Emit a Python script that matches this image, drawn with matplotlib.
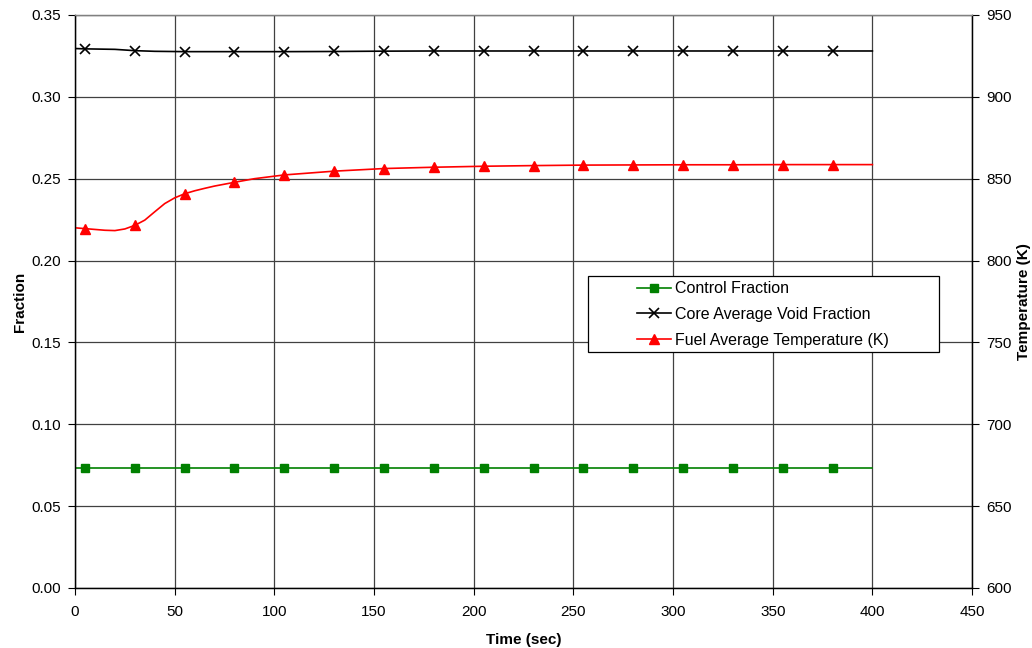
import matplotlib
matplotlib.use("Agg")
import matplotlib.pyplot as plt
from matplotlib.patches import Rectangle
import numpy as np

plt.rcParams["font.family"] = ["Liberation Sans", "DejaVu Sans"]

# line data
time_frac = [0, 5, 20, 30, 40, 55, 80, 105, 130, 155, 180, 205, 230, 255, 280, 305, 330, 355, 380, 400]
control_fraction = [0.073] * len(time_frac)
void_fraction = [0.3295, 0.3293, 0.3290, 0.3282, 0.3278, 0.3276, 0.3276, 0.3276, 0.3277, 0.3279,
                 0.3280, 0.3280, 0.3280, 0.3280, 0.3280, 0.3280, 0.3280, 0.3280, 0.3280, 0.3280]

time_temp = [0, 5, 10, 15, 20, 25, 30, 35, 40, 45, 50, 55, 60, 65, 70, 80, 90, 105, 130,
             155, 180, 205, 230, 255, 280, 305, 330, 355, 380, 400]
fuel_temp = [820.0, 819.5, 819.0, 818.5, 818.3, 819.3, 821.5, 824.7, 829.8, 834.8, 838.3, 840.8,
             842.6, 844.1, 845.5, 847.8, 850.0, 852.3, 854.6, 856.2, 857.0, 857.6, 858.0, 858.3,
             858.4, 858.5, 858.5, 858.6, 858.6, 858.6]

marker_times = [5, 30, 55, 80, 105, 130, 155, 180, 205, 230, 255, 280, 305, 330, 355, 380]

frac_marks = [time_frac.index(t) for t in marker_times]
temp_marks = [time_temp.index(t) for t in marker_times]

fig = plt.figure(figsize=(10.32, 6.48), dpi=100)
ax = fig.add_axes([0.0727, 0.0926, 0.8692, 0.8843])
ax2 = ax.twinx()

l1, = ax.plot(time_frac, control_fraction, color="#008000", lw=1.2, marker="s", ms=6,
              markevery=frac_marks, label="Control Fraction")
l2, = ax.plot(time_frac, void_fraction, color="black", lw=1.2, marker="x", ms=7, mew=1.2,
              markevery=frac_marks, label="Core Average Void Fraction")
l3, = ax2.plot(time_temp, fuel_temp, color="#FF0000", lw=1.2, marker="^", ms=7,
               markevery=temp_marks, label="Fuel Average Temperature (K)")

ax.set_xlim(0, 450)
ax.set_ylim(0, 0.35)
ax2.set_ylim(600, 950)
ax.set_xticks(np.arange(0, 451, 50))
ax.set_yticks(np.arange(0, 0.351, 0.05))
ax.set_yticklabels([f"{v:.2f}" for v in np.arange(0, 0.351, 0.05)])
ax2.set_yticks(np.arange(600, 951, 50))

ax.grid(True, color="#404040", lw=0.9)
ax.set_axisbelow(True)

for a in (ax, ax2):
    a.tick_params(labelsize=11, length=5, width=0.8, color="black", pad=5)
    for s in a.spines.values():
        s.set_color("black")
        s.set_linewidth(0.9)
ax.tick_params(axis="x", pad=7)
ax.spines["top"].set_color("#808080")
ax2.spines["top"].set_color("#808080")

ax.set_xlabel("Time (sec)", fontsize=11, fontweight="bold", labelpad=10)
ax.set_ylabel("Fraction", fontsize=11, fontweight="bold", labelpad=3)
ax2.set_ylabel("Temperature (K)", fontsize=11, fontweight="bold", labelpad=4)

# legend box
box = Rectangle((0.5719, 0.4119), 0.3913, 0.1326, transform=ax2.transAxes,
                facecolor="white", edgecolor="black", lw=0.9, zorder=4)
ax2.add_patch(box)
leg = ax2.legend(handles=[l1, l2, l3], loc="center left", bbox_to_anchor=(0.6265, 0.4773),
                 fontsize=11.5, frameon=False, borderpad=0, labelspacing=0.68,
                 handlelength=2.1, handletextpad=0.25, borderaxespad=0)
leg.set_zorder(5)

fig.savefig("out.png", dpi=100)
